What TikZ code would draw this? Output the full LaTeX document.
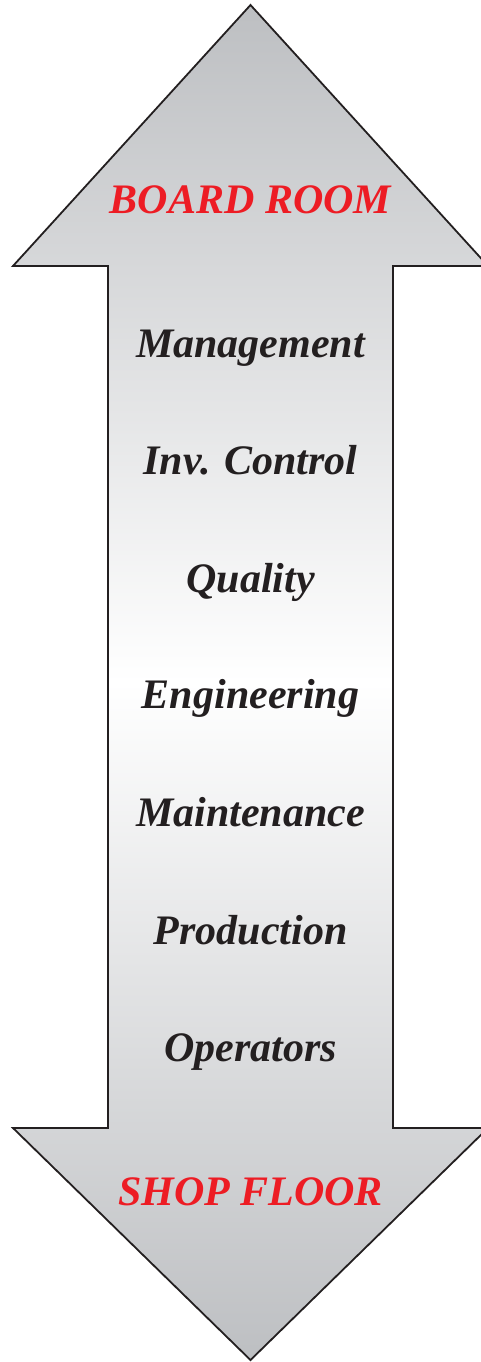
\documentclass[tikz,border=0pt]{standalone}
\usepackage{fontspec}
\setmainfont{Liberation Serif}
\usepackage{xcolor}
\definecolor{ink}{HTML}{231F20}
\definecolor{roomred}{HTML}{ED1C24}
\definecolor{steel}{HTML}{BDBFC2}
\tikzset{>=latex}
\tikzset{
  dept/.style={anchor=base,text=ink,font=\fontsize{42}{48}\selectfont\bfseries\itshape},
  place/.style={dept,text=roomred}
}

\begin{document}
\begin{tikzpicture}[x=1pt,y=-1pt]
      \useasboundingbox (0,0) rectangle (480,1362);
      \path[draw=ink,line width=1.8pt,top color=steel,bottom color=steel,middle color=white]
        (250.5,5) -- (488,266) -- (393,266) -- (393,1128) -- (488,1128) -- (250.5,1360)
        -- (13,1128) -- (108,1128) -- (108,266) -- (13,266) -- cycle;
      \node[place] (A) at (250.5,213) {BOARD ROOM};
      \node[dept] (B) at (250.5,357) {Management};
      \node[dept] (C) at (250.5,474) {Inv. Control};
      \node[dept] (D) at (250.5,592) {Quality};
      \node[dept] (E) at (250.5,708) {Engineering};
      \node[dept] (F) at (250.5,826) {Maintenance};
      \node[dept] (G) at (250.5,944) {Production};
      \node[dept] (H) at (250.5,1061) {Operators};
      \node[place] (I) at (250.5,1205) {SHOP FLOOR};
    \end{tikzpicture}
\end{document}
